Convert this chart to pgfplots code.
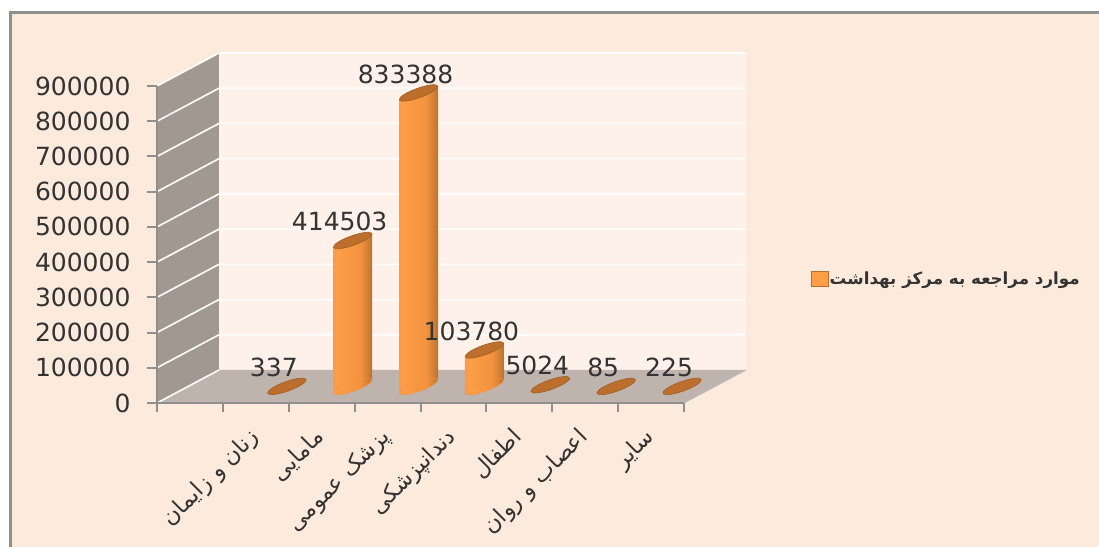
\documentclass[border=0pt]{standalone}
\usepackage{pgfplots}
\pgfplotsset{compat=1.18}
\usepackage{fontspec}
\setmainfont{DejaVu Sans}
\newfontfamily\arabicfont[Script=Arabic]{DejaVu Sans}
\TeXXeTstate=1
\definecolor{bgc}{HTML}{FCEBDD}
\definecolor{backw}{HTML}{FDF1E9}
\definecolor{sidew}{HTML}{A1998F}
\definecolor{floorc}{HTML}{BEB4AD}
\definecolor{framec}{HTML}{8F8F8F}
\definecolor{topc}{HTML}{BC6F2C}
\definecolor{txt}{HTML}{333333}
\definecolor{cyla}{HTML}{E58A3B}
\definecolor{cylb}{HTML}{FF9E48}
\definecolor{cylc}{HTML}{F3923F}
\definecolor{cyld}{HTML}{A8682A}
\definecolor{cyle}{HTML}{6B451E}
\pgfdeclarehorizontalshading{cyl}{100bp}{
 color(0bp)=(cyla); color(30bp)=(cylb); color(60bp)=(cylc); color(80bp)=(cyld); color(100bp)=(cyle)}
\pgfdeclareplotmark{cyltop}{\pgfpathellipse{\pgfpointorigin}{\pgfpoint{19.2pt}{6.9pt}}{\pgfpoint{-1.6pt}{4.5pt}}\pgfusepathqfillstroke}
\pgfdeclareplotmark{cylbase}{\pgfpathellipse{\pgfpointorigin}{\pgfpoint{19.2pt}{6.9pt}}{\pgfpoint{-1.6pt}{4.5pt}}\pgfshadepath{cyl}{0}\pgfusepathqstroke}
\newcommand{\cyl}[2]{%
 \addplot[ybar,bar width=39pt,bar shift=0pt,draw=none,shade,shading=cyl,yslant=0.346,yshift={-0.346*#1*65.875},forget plot] coordinates {(#1,#2)};
}
\begin{document}
\begin{tikzpicture}[x=1pt,y=1pt]
\path[use as bounding box] (0,0) rectangle (1099,546);
\fill[white] (0,0) rectangle (1099,546);
\fill[bgc,draw=framec,line width=3pt] (10,-5) rectangle (1110,533.5);
\begin{axis}[
 at={(157pt,143pt)},anchor=origin,
 scale only axis,width=527pt,height=317pt,
 xmin=0,xmax=8,ymin=0,ymax=900000,
 clip=false,axis on top,
 axis lines=left,
 axis line style={-,draw=framec,line width=2pt},
 xtick={1.5,2.5,3.5,4.5,5.5,6.5,7.5},
 xticklabels={{\arabicfont\beginR زنان و زایمان\endR},{\arabicfont\beginR مامایی\endR},{\arabicfont\beginR پزشک عمومی\endR},{\arabicfont\beginR دندانپزشکی\endR},{\arabicfont\beginR اطفال\endR},{\arabicfont\beginR اعصاب و روان\endR},{\arabicfont\beginR سایر\endR}},
 minor xtick={0,1,2,3,4,5,6,7,8},
 major x tick style={draw=none},
 minor tick length=9pt,
 minor x tick style={draw=framec,line width=2pt},
 xticklabel style={rotate=45,anchor=north east,font=\fontsize{22.5}{25}\selectfont,text=txt,inner sep=0pt,xshift=-15pt,yshift=-3pt},
 ytick={0,100000,200000,300000,400000,500000,600000,700000,800000,900000},
 scaled y ticks=false,
 y tick style={draw=framec,line width=2pt},
 major tick length=10pt,
 tick align=outside,
 yticklabel style={font=\fontsize{25}{26}\selectfont,text=txt,xshift=-13pt,/pgf/number format/.cd,fixed,precision=0,set thousands separator={},assume math mode=true},
]
\fill[backw] (axis cs:0.941,93700) rectangle (axis cs:8.941,993700);
\fill[sidew] (axis cs:0,0) -- (axis cs:0.941,93700) -- (axis cs:0.941,993700) -- (axis cs:0,900000) -- cycle;
\fill[floorc] (axis cs:0,0) -- (axis cs:8,0) -- (axis cs:8.941,93700) -- (axis cs:0.941,93700) -- cycle;
\foreach \v/\w in {100000/193700,200000/293700,300000/393700,400000/493700,500000/593700,600000/693700,700000/793700,800000/893700,900000/993700}{
 \edef\tmp{\noexpand\draw[white,line width=1.6pt] (axis cs:0,\v) -- (axis cs:0.941,\w) -- (axis cs:8.941,\w);}\tmp
}
\draw[white,line width=1.6pt] (axis cs:0,0) -- (axis cs:0.941,93700);
\draw[framec!60,line width=1pt] (axis cs:8,0) -- (axis cs:8.941,93700);
\end{axis}
\begin{axis}[
 at={(188pt,159.5pt)},anchor=origin,
 scale only axis,width=527pt,height=317pt,
 xmin=0,xmax=8,ymin=0,ymax=900000,
 clip=false,hide axis,
 legend image code/.code={\draw[fill=cylb,draw=topc,line width=1pt] (0pt,-7.5pt) rectangle (17pt,7pt);},
 legend style={at={(axis cs:9.45,306000)},anchor=west,draw=none,fill=none,font=\fontsize{16.7}{18}\selectfont\bfseries,text=txt,inner sep=0pt,nodes={inner sep=1pt}},
 /pgf/number format/.cd,fixed,precision=0,set thousands separator={},assume math mode=true,
]
\addlegendimage{}
\addlegendentry{\arabicfont\bfseries\beginR موارد مراجعه به مرکز بهداشت\endR}
\addplot[only marks,mark=cylbase,draw=cylc,forget plot] coordinates {(2.5,0)(3.5,0)(4.5,0)};
\cyl{1.5}{337}
\cyl{2.5}{414503}
\cyl{3.5}{833388}
\cyl{4.5}{103780}
\cyl{5.5}{5024}
\cyl{6.5}{85}
\cyl{7.5}{225}
\addplot[only marks,mark=cyltop,mark options={fill=topc,draw=topc!85!black,line width=.6pt},forget plot,
 nodes near coords,
 every node near coord/.append style={anchor=center,xshift=-13pt,yshift=19pt,font=\fontsize{25}{26}\selectfont,text=txt,inner sep=0pt}]
 coordinates {(1.5,337)(2.5,414503)(3.5,833388)(4.5,103780)(5.5,5024)(6.5,85)(7.5,225)};
\end{axis}
\end{tikzpicture}
\end{document}
